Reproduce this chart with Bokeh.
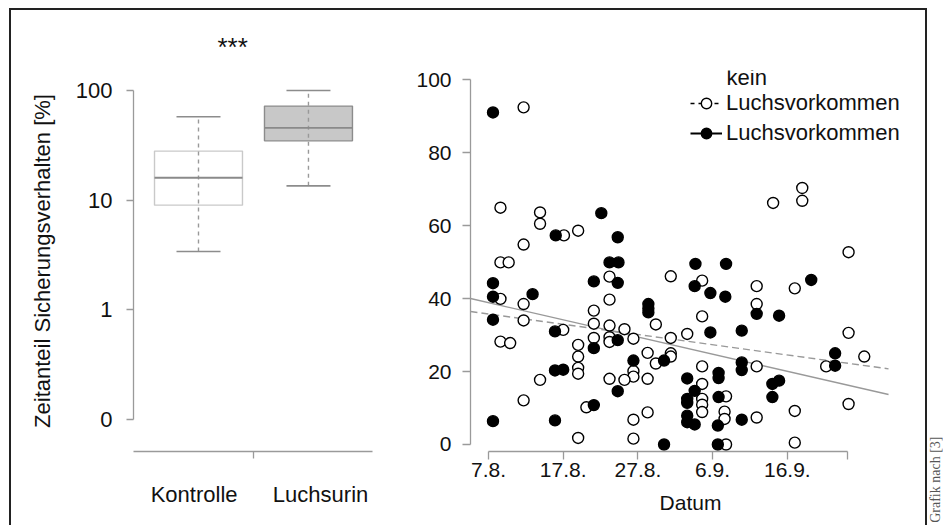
import numpy as np
from bokeh.plotting import figure
from bokeh.models import (Range1d, FixedTicker, LinearAxis, Legend, LegendItem, Label, Row, Title)
from bokeh.embed import file_html
from bokeh.resources import INLINE

FONT = "Liberation Sans"
AX = "#9a9a9a"

# ---------------- boxplot data (percent) ----------------
groups = ["Kontrolle", "Luchsurin"]
box_pos = [1, 2]
whisker_low = [3.4, 13.5]
q1 = [9.0, 34.7]
median = [16.0, 45.6]
q3 = [28.0, 72.0]
whisker_high = [57.5, 100.0]
group_label_pos = [0.96, 2.11]
log_ticks = [-1, 0, 1, 2]
log_tick_labels = ["0", "1", "10", "100"]
signif = "***"

# ---------------- scatter data (days after 7.8., percent) ----------------
kein_day = [4.7, 1.6, 6.9, 6.9, 10.1, 12.0, 4.7, 1.6, 2.7, 16.2, 24.4, 28.6, 1.6, 4.7, 16.2,
            14.1, 22.4, 28.6, 4.7, 14.1, 16.2, 18.2, 10.0, 26.6, 24.4, 12.0, 14.1, 16.2, 16.2,
            19.4, 21.3, 24.4, 24.4, 22.4, 1.6, 2.9, 12.0, 12.0, 12.0, 19.4, 19.4, 18.2, 16.2,
            21.3, 6.9, 28.6, 28.6, 4.7, 13.1, 21.3, 19.4, 12.0, 19.4, 28.6, 28.6, 28.6, 31.8,
            31.6, 31.6, 31.8, 35.9, 41.0, 35.9, 48.2, 35.9, 45.2, 50.3, 35.9, 41.0, 48.2, 41.0,
            48.2, 38.1, 42.0, 42.0]
kein_val = [92.4, 64.9, 63.6, 60.5, 57.3, 58.6, 54.8, 49.9, 49.9, 46.0, 46.1, 44.9, 39.9, 38.5,
            39.7, 36.7, 32.9, 35.1, 34.0, 33.1, 32.6, 31.6, 31.4, 30.3, 29.2, 27.3, 29.2, 29.4,
            28.1, 29.0, 25.1, 25.0, 24.1, 22.2, 28.2, 27.8, 24.1, 21.0, 19.4, 20.1, 18.6, 17.7,
            18.0, 18.0, 17.7, 21.4, 16.6, 12.1, 10.2, 8.8, 6.8, 1.8, 1.6, 12.5, 10.9, 8.9, 13.2,
            9.0, 7.0, 0.0, 43.4, 42.8, 38.5, 30.6, 21.4, 21.4, 24.1, 7.4, 9.2, 11.1, 0.5, 52.7,
            66.2, 70.3, 66.8]
luchs_day = [0.6, 15.1, 9.0, 17.3, 16.2, 17.4, 27.7, 31.8, 0.6, 14.1, 17.3, 27.6, 29.7, 31.7,
             43.2, 0.6, 5.9, 21.4, 21.4, 21.4, 35.9, 38.9, 0.6, 8.9, 29.7, 33.9, 14.1, 17.3,
             19.4, 23.5, 8.9, 10.0, 30.8, 30.8, 33.9, 33.9, 46.4, 46.4, 26.6, 38.0, 38.9, 17.3,
             27.6, 26.6, 26.6, 30.8, 38.0, 14.1, 26.6, 26.6, 27.6, 30.7, 33.9, 0.6, 8.9, 23.5,
             30.7]
luchs_val = [91.0, 63.4, 57.3, 56.8, 49.9, 49.9, 49.5, 49.5, 44.2, 44.7, 44.3, 43.4, 41.5, 40.5,
             45.1, 40.5, 41.2, 38.5, 37.3, 36.2, 35.8, 35.3, 34.2, 31.0, 30.7, 31.2, 26.4, 28.6,
             23.0, 23.0, 20.3, 20.5, 19.6, 18.2, 22.5, 20.4, 25.0, 21.6, 18.1, 16.6, 17.5, 14.6,
             14.7, 12.5, 11.4, 13.0, 13.0, 10.8, 7.9, 6.1, 5.5, 5.2, 6.8, 6.4, 6.6, 0.0, 0.0]
date_ticks = [0, 10, 20, 30, 40, 48]
date_labels = ["7.8.", "17.8.", "27.8.", "6.9.", "16.9.", ""]
y_ticks = [0, 20, 40, 60, 80, 100]
kein_fit = (35.76, -0.2806)    # intercept, slope per day
luchs_fit = (38.87, -0.470)
fit_span = [-2.41, 53.55]      # day range over which the fitted lines are drawn
legend_labels = ["Luchsvorkommen", "Luchsvorkommen"]
legend_prefix = "kein"
source_note = "Grafik nach [3]"


def style_axis(ax, size="22px"):
    ax.axis_line_color = AX
    ax.major_tick_line_color = AX
    ax.minor_tick_line_color = None
    ax.major_label_text_font = FONT
    ax.major_label_text_font_size = size
    ax.major_label_text_color = "#111111"
    ax.axis_label_text_font = FONT
    ax.axis_label_text_font_size = size
    ax.axis_label_text_font_style = "normal"
    ax.axis_label_text_color = "#111111"
    ax.axis_line_width = 1.3
    ax.major_tick_line_width = 1.3


H = 515
TOP = 60
BOTTOM = 74

# ================= left panel: boxplot =================
p1 = figure(width=380, height=H, x_range=Range1d(0.409, 2.655), y_range=Range1d(-1.292, 2.182),
            output_backend="svg", toolbar_location=None, x_axis_type=None, y_axis_type=None,
            min_border_left=122, min_border_right=11, min_border_top=TOP, min_border_bottom=BOTTOM)
p1.outline_line_color = None
p1.title = Title(text=signif, align="left", offset=84, standoff=17, text_font=FONT,
                 text_font_size="26px", text_font_style="normal", text_color="#111111")

ya = LinearAxis(ticker=FixedTicker(ticks=log_ticks),
                major_label_overrides=dict(zip(log_ticks, log_tick_labels)),
                bounds=(log_ticks[0], log_ticks[-1]),
                axis_label="Zeitanteil Sicherungsverhalten [%]",
                major_tick_out=7, major_tick_in=0, major_label_standoff=14, axis_label_standoff=18)
style_axis(ya)
p1.add_layout(ya, "left")

mid = float(np.mean(box_pos))
xa1 = LinearAxis(ticker=FixedTicker(ticks=[mid]), major_label_overrides={mid: ""},
                 bounds=(0.409, 2.582), major_tick_out=7, major_tick_in=0, major_label_standoff=0)
style_axis(xa1)
xa1.major_label_text_font_size = "0px"
p1.add_layout(xa1, "below")

xa2 = LinearAxis(ticker=FixedTicker(ticks=group_label_pos),
                 major_label_overrides=dict(zip(group_label_pos, groups)),
                 major_tick_out=0, major_tick_in=0, major_label_standoff=23)
style_axis(xa2)
xa2.axis_line_color = None
xa2.major_tick_line_color = None
p1.add_layout(xa2, "below")

lq1 = np.log10(q1)
lq3 = np.log10(q3)
lmed = np.log10(median)
llo = np.log10(whisker_low)
lhi = np.log10(whisker_high)
bp = np.array(box_pos, dtype=float)

fills = ["white", "#c8c8c8"]
outlines = ["#c9c9c9", "#8c8c8c"]
p1.quad(left=bp - 0.4, right=bp + 0.4, bottom=lq1, top=lq3, fill_color=fills,
        line_color=outlines, line_width=1.4)
p1.segment(x0=bp, x1=bp, y0=llo, y1=lhi, line_color="#999999", line_width=1.4, line_dash="4 4")
p1.segment(x0=bp - 0.2, x1=bp + 0.2, y0=llo, y1=llo, line_color="#8c8c8c", line_width=1.6)
p1.segment(x0=bp - 0.2, x1=bp + 0.2, y0=lhi, y1=lhi, line_color="#8c8c8c", line_width=1.6)
p1.segment(x0=bp - 0.4, x1=bp + 0.4, y0=lmed, y1=lmed, line_color="#8a8a8a", line_width=1.8)

# ================= right panel: scatter =================
p2 = figure(width=534, height=H, x_range=Range1d(-2.41, 56.49), y_range=Range1d(-1.92, 102.5),
            output_backend="svg", toolbar_location=None, x_axis_type=None, y_axis_type=None,
            min_border_left=79, min_border_right=15, min_border_top=TOP, min_border_bottom=BOTTOM)
p2.outline_line_color = None

yb = LinearAxis(ticker=FixedTicker(ticks=y_ticks), bounds=(y_ticks[0], y_ticks[-1]),
                major_tick_out=8, major_tick_in=0, major_label_standoff=11)
style_axis(yb, "21px")
p2.add_layout(yb, "left")

xb = LinearAxis(ticker=FixedTicker(ticks=date_ticks),
                major_label_overrides=dict(zip(date_ticks, date_labels)),
                bounds=(date_ticks[0], date_ticks[-1]), axis_label="Datum",
                major_tick_out=8, major_tick_in=0, major_label_standoff=3, axis_label_standoff=11)
style_axis(xb, "21px")
p2.add_layout(xb, "below")

x_ends = np.array(fit_span)
p2.line(x_ends, kein_fit[0] + kein_fit[1] * x_ends, line_color="#999999", line_width=1.4,
        line_dash="7 4")
p2.line(x_ends, luchs_fit[0] + luchs_fit[1] * x_ends, line_color="#999999", line_width=1.4)

r_kein = p2.scatter(kein_day, kein_val, size=11, fill_color="white", line_color="black",
                    line_width=1.4)
r_luchs = p2.scatter(luchs_day, luchs_val, size=11, fill_color="black", line_color="black",
                     line_width=1.4)

# legend line keys (NaN data: nothing is drawn in the plot, only the legend key)
lk_line = p2.line([np.nan], [np.nan], line_color="black", line_width=1.5, line_dash="4 4")
ll_line = p2.line([np.nan], [np.nan], line_color="black", line_width=2)
leg = Legend(items=[LegendItem(label=legend_labels[0], renderers=[lk_line, r_kein]),
                    LegendItem(label=legend_labels[1], renderers=[ll_line, r_luchs])],
             location=(220, 305), padding=0, margin=0, spacing=4, glyph_width=32,
             glyph_height=26, label_height=26, label_standoff=4,
             label_text_font=FONT, label_text_font_size="22px", label_text_color="#111111",
             background_fill_alpha=0, border_line_color=None)
p2.add_layout(leg)
p2.add_layout(Label(x=31.86, y=100.5, text=legend_prefix, text_font=FONT, text_font_size="22px",
                    text_align="left", text_baseline="middle", text_color="#111111"))

# ================= source note =================
p3 = figure(width=16, height=522, x_range=Range1d(0, 1), y_range=Range1d(0, 1),
            output_backend="svg", toolbar_location=None, x_axis_type=None, y_axis_type=None,
            min_border=0)
p3.outline_line_color = None
p3.add_layout(Label(x=0.5, y=1 - 436 / 522, text=source_note, angle=np.pi / 2, text_align="right",
                    text_baseline="middle", text_font="Liberation Serif", text_font_size="14px",
                    text_color="#555555"))

border = "2px solid #222222"
inner = Row(children=[p1, p2], margin=(8, 0, 0, 9),
            styles={"border-top": border, "border-left": border, "border-right": border})
outer = Row(children=[inner, p3])

open("out.html", "w").write(file_html(outer, INLINE))
